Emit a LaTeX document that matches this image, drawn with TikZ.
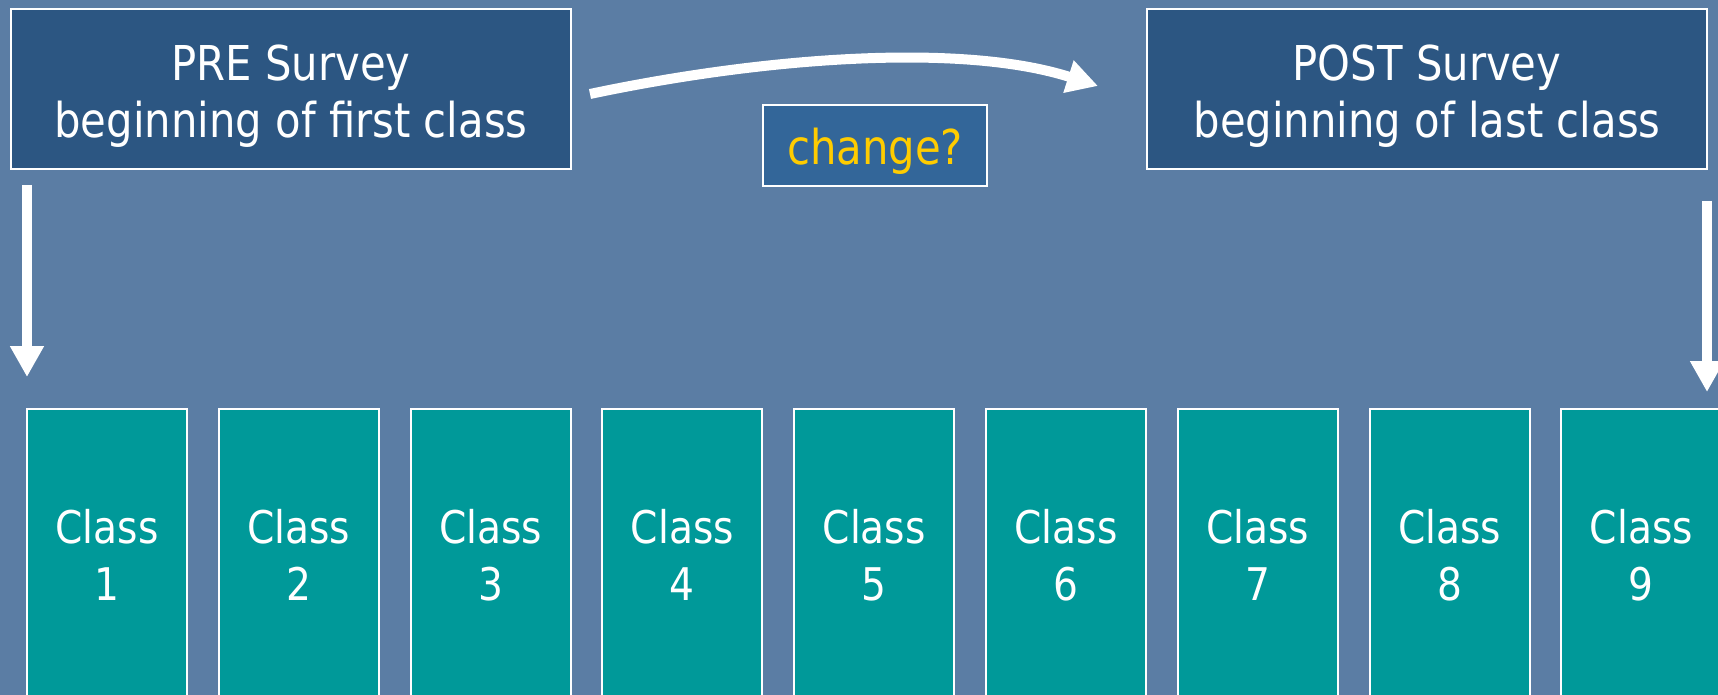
\documentclass[tikz,border=0pt]{standalone}
\usepackage{fontspec}
\setmainfont{DejaVu Sans}[FakeStretch=0.87]
\usetikzlibrary{arrows.meta}
\definecolor{bg}{RGB}{91,125,164}
\definecolor{survey}{RGB}{44,86,130}
\definecolor{chg}{RGB}{51,102,153}
\definecolor{cls}{RGB}{0,153,153}
\definecolor{gold}{RGB}{255,204,0}
\begin{document}
\begin{tikzpicture}[x=1pt,y=-1pt,
  surveybox/.style={draw=white, line width=2pt, fill=survey,
    minimum width=560pt, minimum height=160pt, inner sep=0pt},
  surveytext/.style={text=white, inner sep=0pt, align=center,
    font=\fontsize{48}{57}\selectfont},
  changebox/.style={draw=white, line width=2pt, fill=chg,
    minimum width=224pt, minimum height=81pt, inner sep=0pt},
  changetext/.style={text=gold, inner sep=0pt,
    font=\fontsize{48}{57}\selectfont},
  classbox/.style={draw=white, line width=2pt, fill=cls, text=white,
    minimum width=160pt, minimum height=292pt, inner sep=0pt, align=center,
    text depth=0pt, font=\fontsize{45}{57}\selectfont},
  bigarrow/.style={draw=white, line width=10pt,
    -{Triangle[width=32pt,length=31pt]}}]
\fill[bg] (0,0) rectangle (1718,695);
\useasboundingbox (0,0) rectangle (1718,695);
\clip (0,0) rectangle (1718,695);

\node[surveybox] (pre) at (291,89) {};
\node[surveytext] (preT) at ([yshift=-7pt]pre.center) {PRE Survey\\beginning of first class};
\node[surveybox] (post) at (1427,89) {};
\node[surveytext] (postT) at ([yshift=-7pt]post.center) {POST Survey\\beginning of last class};
\node[changebox] (chg) at (875,145.5) {};
\node[changetext] (chgT) at ([yshift=-6pt]chg.center) {change?};

\foreach \i in {1,...,9}
  \node[classbox] (c\i) at ({107+191.8*(\i-1)},555) {Class\\\i};

\coordinate (preA) at (590,94);
\coordinate (postA) at (1098,86);
\draw[bigarrow] (preA) .. controls (760,58) and (960,42) .. (postA);

\coordinate (preD1) at (27,185);
\coordinate (preD2) at (27,377);
\draw[bigarrow] (preD1) -- (preD2);

\coordinate (postD1) at (1707,201);
\coordinate (postD2) at (1707,392);
\draw[bigarrow] (postD1) -- (postD2);
\end{tikzpicture}
\end{document}
